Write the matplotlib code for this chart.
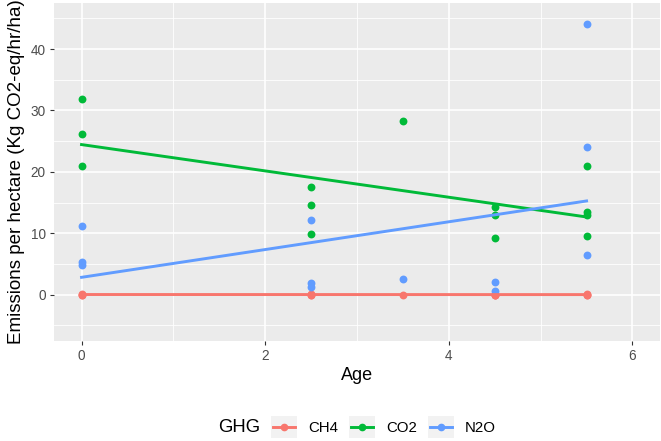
import numpy as np
import matplotlib
matplotlib.use("Agg")
from matplotlib import pyplot
from matplotlib.lines import Line2D
from matplotlib.patches import Rectangle
from matplotlib.legend_handler import HandlerBase

pyplot.rcParams["font.family"] = ["Liberation Sans", "DejaVu Sans"]

# -----------------------------------------------------------------------------
# data
ghg = ["CH4", "CO2", "N2O"]
colors = ["#F8766D", "#00BA38", "#619CFF"]

ch4_age = [0, 0, 0, 2.5, 2.5, 2.5, 3.5, 4.5, 4.5, 4.5, 5.5, 5.5, 5.5]
ch4_val = [0.0, 0.05, 0.02, 0.0, 0.03, 0.01, 0.0, 0.0, 0.02, 0.01, 0.0, 0.03, 0.01]

co2_age = [0, 0, 0, 2.5, 2.5, 2.5, 3.5, 4.5, 4.5, 4.5, 5.5, 5.5, 5.5, 5.5]
co2_val = [31.8, 26.2, 21.0, 17.5, 14.6, 9.8, 28.3, 14.3, 12.9, 9.3, 20.9, 13.4, 13.0, 9.5]

n2o_age = [0, 0, 0, 2.5, 2.5, 2.5, 3.5, 4.5, 4.5, 5.5, 5.5, 5.5]
n2o_val = [11.1, 5.3, 4.8, 12.2, 1.9, 1.2, 2.6, 2.0, 0.6, 44.1, 24.1, 6.5]

ages = [ch4_age, co2_age, n2o_age]
vals = [ch4_val, co2_val, n2o_val]

xticks = [0, 2, 4, 6]
yticks = [0, 10, 20, 30, 40]


# legend key with grey box behind line + point, ggplot style
class KeyHandler(HandlerBase):
    def create_artists(self, legend, orig, xd, yd, width, height, fontsize, trans):
        box = Rectangle((-xd, -yd), width, height,
                        facecolor="#F2F2F2", edgecolor="none", transform=trans)
        c = orig.get_color()
        yc = -yd + 0.5 * height
        ln = Line2D([-xd + 0.08 * width, -xd + 0.92 * width], [yc, yc],
                    color=c, lw=2.1, transform=trans)
        pt = Line2D([-xd + width / 2], [yc], marker="o", ms=4.5,
                    color=c, lw=0, transform=trans)
        return [box, ln, pt]


fig = pyplot.figure(figsize=(6.61, 4.41), dpi=100)
ax = fig.add_axes([54 / 661, 1 - 340.7 / 441, 606 / 661, 337.7 / 441])
ax.set_facecolor("#EBEBEB")

ax.set_xlim(-0.3, 6.3)
ax.set_ylim(-7.5, 47.5)
ax.set_xticks(xticks)
ax.set_yticks(yticks)
ax.set_xticks([1, 3, 5], minor=True)
ax.set_yticks([-5, 5, 15, 25, 35, 45], minor=True)
ax.grid(which="major", color="white", lw=1.2)
ax.grid(which="minor", color="white", lw=0.6)
ax.set_axisbelow(True)
for s in ax.spines.values():
    s.set_visible(False)
ax.tick_params(which="major", length=3, width=0.8, color="#333333",
               labelcolor="#4D4D4D", labelsize=9.8, pad=3)
ax.tick_params(which="minor", length=0)

handles = []
for name, c, a, v in zip(ghg, colors, ages, vals):
    ax.scatter(a, v, s=32, color=c, zorder=3, linewidths=0)
    k, b = np.polyfit(a, v, 1)
    xs = np.array([min(a), max(a)])
    ax.plot(xs, k * xs + b, color=c, lw=2.1, zorder=4)
    handles.append(Line2D([], [], color=c, label=name))

ax.set_xlabel("Age", fontsize=13, labelpad=3)
ax.set_ylabel("Emissions per hectare (Kg CO2-eq/hr/ha)", fontsize=13.5, labelpad=4)

fig.legend(handles=handles, labels=ghg, loc="center", ncol=3,
           bbox_to_anchor=(383.5 / 661, 1 - 427 / 441), frameon=False,
           handler_map={Line2D: KeyHandler()}, fontsize=10.8,
           handlelength=1.73, handleheight=1.95, columnspacing=0.73,
           handletextpad=0.73, borderpad=0)
fig.text(218 / 661, 1 - 428 / 441, "GHG", fontsize=13.3, va="center", ha="left")

pyplot.savefig("out.png", dpi=100)
